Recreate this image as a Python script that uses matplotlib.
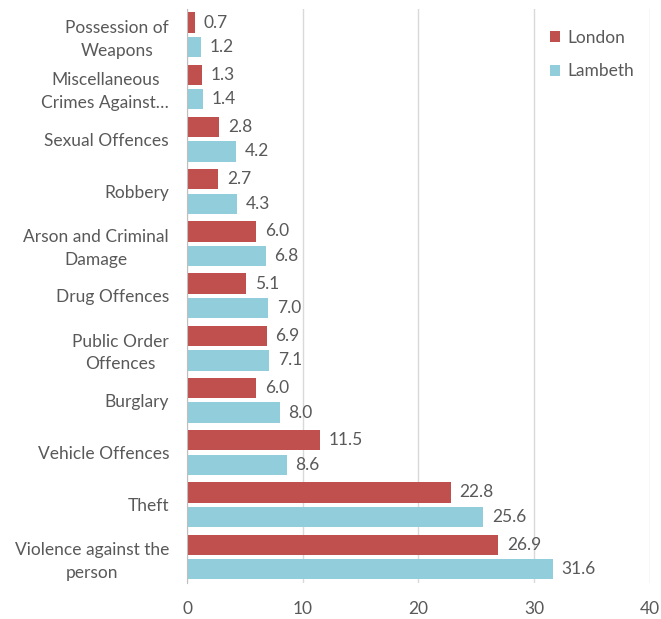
import numpy as np
import matplotlib.pyplot as plt

categories = ["Possession of\nWeapons", "Miscellaneous\nCrimes Against\u2026",
              "Sexual Offences", "Robbery", "Arson and Criminal\nDamage",
              "Drug Offences", "Public Order\nOffences", "Burglary",
              "Vehicle Offences", "Theft", "Violence against the\nperson"]
london = [0.7, 1.3, 2.8, 2.7, 6.0, 5.1, 6.9, 6.0, 11.5, 22.8, 26.9]
lambeth = [1.2, 1.4, 4.2, 4.3, 6.8, 7.0, 7.1, 8.0, 8.6, 25.6, 31.6]
xticks = [0, 10, 20, 30, 40]

plt.rcParams['font.family'] = ['Lato', 'DejaVu Sans']
text_col = '#595959'
fs = 12.5

fig = plt.figure(figsize=(6.61, 6.19), dpi=100)
ax = fig.add_axes([0.283, 0.058, 0.700, 0.928])

y = np.arange(len(categories))
h = 0.39
off = 0.235
b1 = ax.barh(y - off, london, height=h, color='#C0504D', label='London')
b2 = ax.barh(y + off, lambeth, height=h, color='#92CDDC', label='Lambeth')

# value labels just past the end of each bar
for bars, vals in ((b1, london), (b2, lambeth)):
    for bar, v in zip(bars, vals):
        ax.text(v + 0.75, bar.get_y() + bar.get_height() / 2, f'{v:.1f}',
                va='center', ha='left', fontsize=fs, color=text_col)

ax.set_ylim(len(categories) - 0.5, -0.5)
ax.set_xlim(0, 40)
ax.set_xticks(xticks)
ax.set_yticks(y)
ax.set_yticklabels(categories, multialignment='center', linespacing=1.5)
ax.tick_params(axis='y', length=0, pad=13, labelsize=fs, colors=text_col)
ax.tick_params(axis='x', length=0, pad=13, labelsize=fs, colors=text_col)

ax.grid(axis='x', color='#D9D9D9', linewidth=1)
ax.set_axisbelow(True)
for s in ('top', 'right', 'bottom'):
    ax.spines[s].set_visible(False)
ax.spines['left'].set_color('#BFBFBF')

ax.legend(loc='upper right', bbox_to_anchor=(1.0, 0.99), frameon=True,
          edgecolor='none', facecolor='white', framealpha=1,
          handlelength=0.6, handleheight=0.6, handletextpad=0.4,
          labelspacing=1.0, fontsize=fs, labelcolor=text_col)

fig.savefig('out.png', dpi=100)
